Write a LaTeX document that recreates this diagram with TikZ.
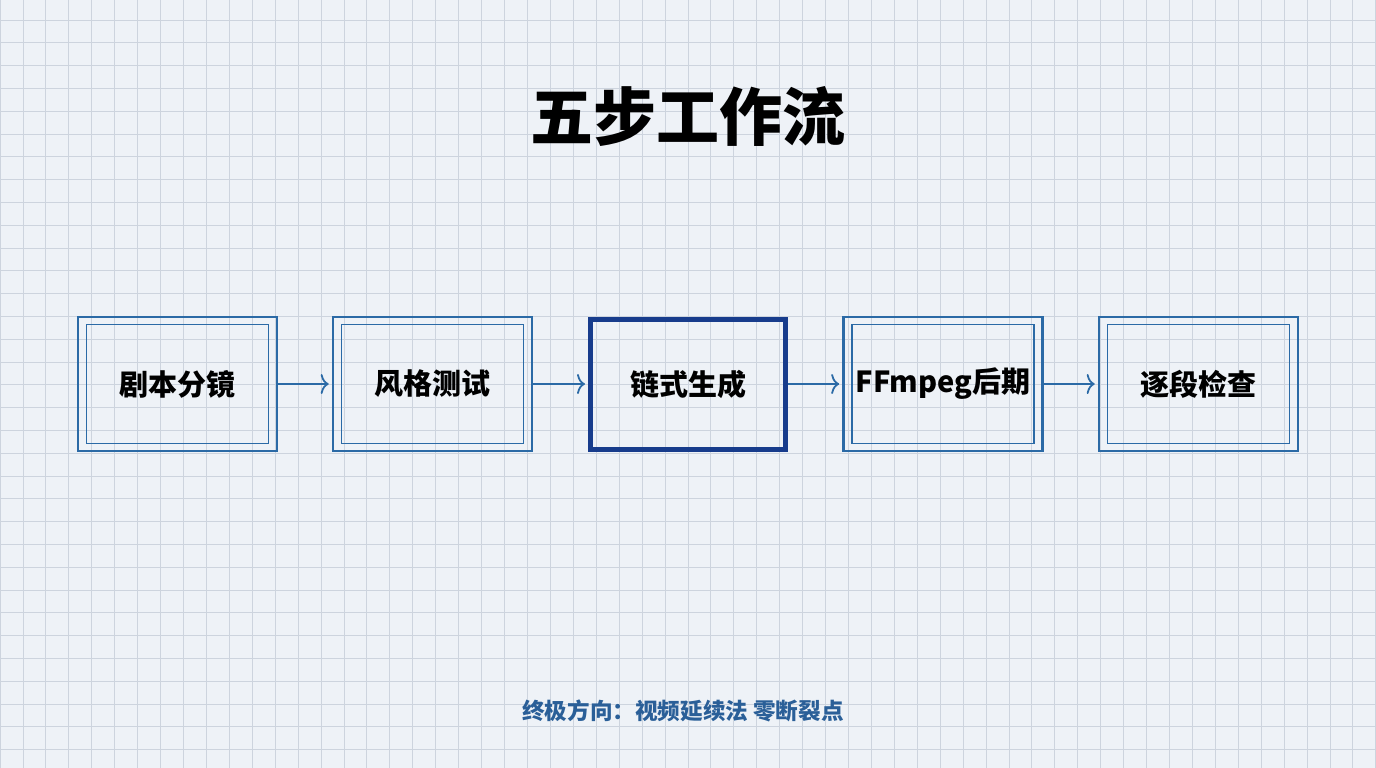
\documentclass[tikz,border=0pt]{standalone}
\usepackage{fontspec}
\newfontfamily\cjk{Noto Sans CJK SC}
\usetikzlibrary{arrows.meta}
\definecolor{bgc}{HTML}{EEF2F7}
\definecolor{gridc}{HTML}{CDD4DE}
\definecolor{boxc}{HTML}{2B6AA6}
\definecolor{navy}{HTML}{173C8C}
\definecolor{foot}{HTML}{2A5F98}
\tikzset{
  stepbox/.style={draw=boxc, line width=2.6pt, minimum width=199pt, minimum height=134pt, inner sep=0pt, font=\cjk\bfseries\fontsize{29}{31}\selectfont, text=black},
  innerbox/.style={draw=boxc, line width=1.4pt, minimum width=182pt, minimum height=119pt},
  mainbox/.style={draw=navy, line width=5pt, minimum width=195pt, minimum height=130pt, inner sep=0pt, font=\cjk\bfseries\fontsize{29}{31}\selectfont, text=black},
  flow/.style={draw=boxc, line width=1.6pt, shorten >=3pt, -{To[length=8pt,width=20pt,line width=1.8pt]}},
}
\begin{document}
\begin{tikzpicture}[x=1pt,y=-1pt]
\fill[bgc] (0,0) rectangle (1376,768);
\useasboundingbox (0,0) rectangle (1376,768);
\foreach \i in {0,...,60} \draw[gridc, line width=0.8pt] (\i*22.93,0) -- (\i*22.93,768);
\foreach \j in {0,...,34} \draw[gridc, line width=0.8pt] (0,\j*22.8-2.8) -- (1376,\j*22.8-2.8);

\node[font=\cjk\bfseries\fontsize{63}{66}\selectfont, text=black] (title) at (688,116) {五步工作流};

\node[stepbox] (s1) at (177.5,384) {剧本分镜};
\node[innerbox] at (s1.center) {};
\node[stepbox] (s2) at (432.5,384) {风格测试};
\node[innerbox] at (s2.center) {};
\node[mainbox] (s3) at (688,384) {链式生成};
\node[stepbox] (s4) at (943,384) {FFmpeg后期};
\node[innerbox] at (s4.center) {};
\node[stepbox] (s5) at (1198.5,384) {逐段检查};
\node[innerbox] at (s5.center) {};

\draw[flow] (s1.east) -- (s2.west);
\draw[flow] (s2.east) -- (s3.west);
\draw[flow] (s3.east) -- (s4.west);
\draw[flow] (s4.east) -- (s5.west);

\node[font=\cjk\bfseries\fontsize{22.6}{24}\selectfont, text=foot] (foot) at (683,711) {终极方向：视频延续法 零断裂点};
\end{tikzpicture}
\end{document}
